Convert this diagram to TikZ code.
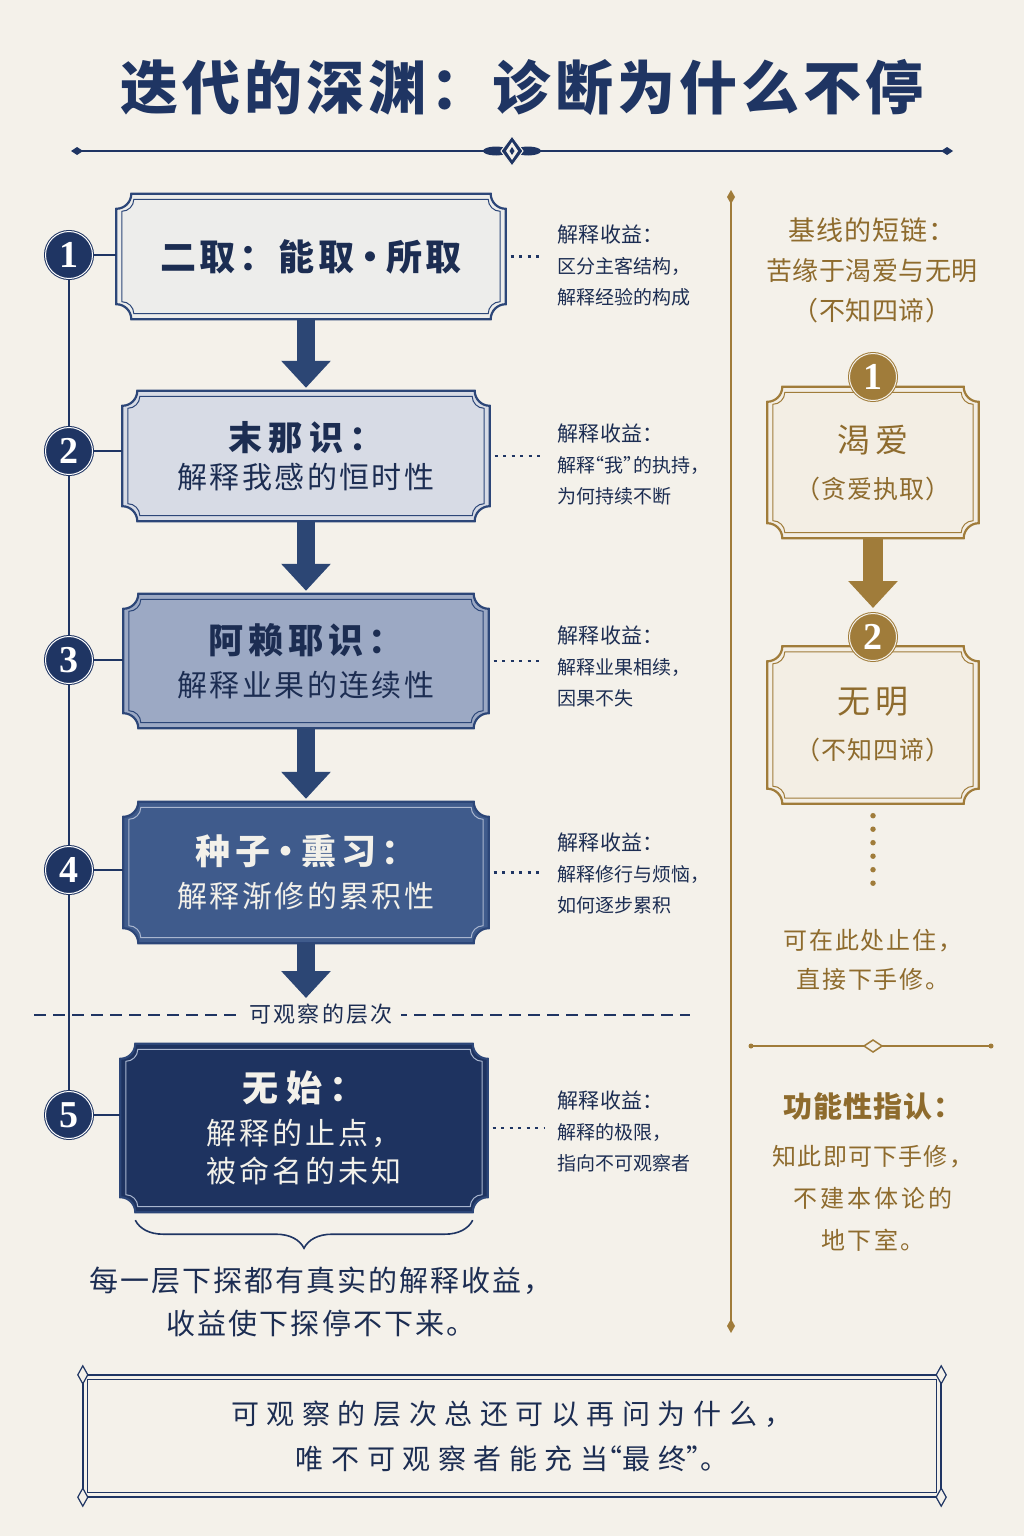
\documentclass[tikz,border=0pt]{standalone}
\usepackage{fontspec}
\newfontfamily\cjk{Noto Sans CJK SC}
\newfontfamily\numfont{Liberation Serif}
\usetikzlibrary{arrows.meta,backgrounds,calc,decorations.pathreplacing}
\definecolor{paper}{HTML}{F4F1EA}
\definecolor{navy}{HTML}{1F3563}
\definecolor{ink}{HTML}{1C2D52}
\definecolor{frameblue}{HTML}{2C4678}
\definecolor{arrowblue}{HTML}{2C4674}
\definecolor{paleline}{HTML}{A9B6CF}
\definecolor{pale}{HTML}{F3F1EA}
\definecolor{fillA}{HTML}{EDEDEB}
\definecolor{fillB}{HTML}{D7DBE5}
\definecolor{fillC}{HTML}{9CA9C4}
\definecolor{fillD}{HTML}{3F5B8C}
\definecolor{fillE}{HTML}{1E3360}
\definecolor{gold}{HTML}{A07C3A}
\definecolor{goldink}{HTML}{8E6B2D}
\definecolor{goldfill}{HTML}{F3EEE4}
\newcommand{\zi}[3]{{\fontsize{#1}{#1}\selectfont\addfontfeatures{LetterSpace=#2}#3}}
\newcommand{\hw}[1]{{\addfontfeatures{RawFeature=+halt}#1}}
\newcommand{\notchpath}[3]{let \p1=($(#1.north west)+(#2,-#2)$), \p2=($(#1.south east)+(-#2,#2)$) in
  (\x1+#3,\y1) -- (\x2-#3,\y1) .. controls (\x2-#3,\y1-0.55*#3) and (\x2-0.55*#3,\y1-#3) .. (\x2,\y1-#3)
  -- (\x2,\y2+#3) .. controls (\x2-0.55*#3,\y2+#3) and (\x2-#3,\y2+0.55*#3) .. (\x2-#3,\y2)
  -- (\x1+#3,\y2) .. controls (\x1+#3,\y2+0.55*#3) and (\x1+0.55*#3,\y2+#3) .. (\x1,\y2+#3)
  -- (\x1,\y1-#3) .. controls (\x1+0.55*#3,\y1-#3) and (\x1+#3,\y1-0.55*#3) .. cycle}
\newcommand{\tierframe}[4]{%
  \path[fill=#2, draw=#3, line width=2.2pt] \notchpath{#1}{0pt}{15pt};
  \path[draw=#4, line width=1pt] \notchpath{#1}{5.5pt}{12pt};}

\begin{document}
\begin{tikzpicture}[x=1pt, y=-1pt, font=\cjk]
\tikzset{layerbox/.style={inner sep=0pt, align=center, text=ink, font=\cjk\fontsize{30}{43}\selectfont},
  tag/.style={circle, minimum size=47pt, inner sep=0pt, fill=navy, draw=navy, double=white, double distance=1pt, line width=1pt, text=white, font=\numfont\bfseries\fontsize{38}{38}\selectfont},
  gain/.style={anchor=west, inner sep=0pt, align=left, text=ink, font=\cjk\fontsize{19}{31}\selectfont},
  flow/.style={draw=arrowblue, line width=18pt, -{Triangle[width=48pt,length=27pt]}, shorten >=3pt},
  spine/.style={draw=navy, line width=2.4pt},
  gaindots/.style={draw=navy, line width=2.4pt, dash pattern=on 3pt off 5.5pt, shorten <=5pt, shorten >=13pt},
  goldbox/.style={inner sep=0pt, align=center, text=goldink, font=\cjk\fontsize{25}{46}\selectfont},
  goldtag/.style={tag, fill=gold, draw=gold, double=paper},
  goldflow/.style={draw=gold, line width=20pt, -{Triangle[width=48pt,length=27pt]}, shorten >=5pt},
  goldtext/.style={align=center, text=goldink, inner sep=0pt, font=\cjk\fontsize{25}{40}\selectfont}}
\useasboundingbox (0,0) rectangle (1024,1536);

\node[text=navy, inner sep=0pt, font=\cjk\bfseries] (title) at (522,87) {\zi{58}{7}{迭代的深渊：诊断为什么不停}};
\draw[navy, line width=2.5pt] (77,151) -- (947,151);
\foreach \x in {77,947} \fill[navy] (\x,151) +(-6,0) -- +(0,-4) -- +(6,0) -- +(0,4) -- cycle;
\fill[navy] (496,151) ellipse (13 and 4.5);
\fill[navy] (528,151) ellipse (13 and 4.5);
\filldraw[fill=navy, draw=paper, line width=1pt] (512,136) -- (523,151) -- (512,166) -- (501,151) -- cycle;
\fill[paper] (512,142) -- (518,151) -- (512,160) -- (506,151) -- cycle;
\fill[navy] (512,147) -- (514.5,151) -- (512,155) -- (509.5,151) -- cycle;

\node[layerbox, minimum width=389pt, minimum height=125pt, font=\cjk\bfseries] (L1) at (311,256.5) {\zi{36}{10}{二取：能取\hspace{7pt}\hw{·}\hspace{7pt}所取}};
\node[layerbox, minimum width=367pt, minimum height=130pt, font=\cjk\fontsize{30}{38}\selectfont] (L2) at (306,456) {{\bfseries\zi{34}{18}{末那识：}}\\\zi{30}{8}{解释我感的恒时性}};
\node[layerbox, minimum width=365pt, minimum height=134pt] (L3) at (306,661) {{\bfseries\zi{35}{14}{阿赖耶识：}}\\\zi{30}{8}{解释业果的连续性}};
\node[layerbox, text=pale, minimum width=365pt, minimum height=141pt] (L4) at (306,872.5) {{\bfseries\zi{35}{14}{种子\hspace{7pt}\hw{·}\hspace{7pt}熏习：}}\\\zi{30}{8}{解释渐修的累积性}};
\node[layerbox, text=pale, minimum width=367pt, minimum height=168pt, font=\cjk\fontsize{30}{38}\selectfont] (L5) at (304,1128) {{\bfseries\zi{36}{22}{无始：}}\\[5pt]\zi{30}{10}{解释的止点，}\\\zi{30}{10}{被命名的未知}};

\foreach \n/\y in {1/255,2/451,3/660,4/870,5/1115} \node[tag] (C\n) at (69,\y) {\n};
\foreach \a/\b in {1/2,2/3,3/4,4/5} \draw[spine] (C\a) -- (C\b);
\foreach \n in {1,...,5} \draw[spine] (C\n) -- (C\n -| L\n.west);

\coordinate (stop4) at (306,1001);
\draw[flow] (L2.north |- L1.south) -- (L2.north);
\draw[flow] (L2.south) -- (L3.north);
\draw[flow] (L3.south) -- (L4.north);
\draw[flow] (L4.south) -- (stop4);

\node[gain] (R1) at (557,265) {\zi{21}{2}{解释收益：}\\区分主客结构，\\解释经验的构成};
\node[gain] (R2) at (557,464) {\zi{21}{2}{解释收益：}\\解释\hw{“}我\hw{”}的执持，\\为何持续不断};
\node[gain] (R3) at (557,666) {\zi{21}{2}{解释收益：}\\解释业果相续，\\因果不失};
\node[gain] (R4) at (557,873) {\zi{21}{2}{解释收益：}\\解释修行与烦恼，\\如何逐步累积};
\node[gain] (R5) at (557,1131) {\zi{21}{2}{解释收益：}\\解释的极限，\\指向不可观察者};
\foreach \n in {1,...,5} \draw[gaindots] (L\n.east) -- (L\n.east -| R\n.west);

\coordinate (sepL) at (34,1015);
\coordinate (sepR) at (690,1015);
\draw[navy, line width=2pt, dash pattern=on 12pt off 7pt] (sepL) -- (sepR);
\node[fill=paper, inner xsep=8pt, inner ysep=2pt, text=ink] (obs) at (321,1014) {\zi{22}{10}{可观察的层次}};

\draw[navy, line width=1.6pt, decorate, decoration={brace, mirror, amplitude=28pt}] ([xshift=15pt,yshift=-8pt]L5.south west) -- ([xshift=-15pt,yshift=-8pt]L5.south east);
\node[align=center, text=ink, inner sep=0pt, font=\cjk\fontsize{29}{43}\selectfont] (moral) at (321,1302) {\zi{29}{7}{每一层下探都有真实的解释收益，}\\\zi{29}{7}{收益使下探停不下来。}};

\draw[gold, line width=2pt] (731,197) -- (731,1326);
\foreach \y in {197,1326} \fill[gold] (731,\y) +(0,-7) -- +(4,0) -- +(0,7) -- +(-4,0) -- cycle;

\node[goldtext, font=\cjk\fontsize{26}{40}\selectfont] (head) at (872,270) {\zi{27}{4}{基线的短链：}\\\zi{26}{2}{苦缘于渴爱与无明}\\\zi{26}{2}{（不知四谛）}};
\node[goldbox, minimum width=211pt, minimum height=151pt] (G1) at (873,462.5) {\zi{33}{15}{渴爱}\\\zi{25}{4}{（贪爱执取）}};
\node[goldbox, minimum width=211pt, minimum height=157pt] (G2) at (873,725) {\zi{33}{15}{无明}\\\zi{25}{4}{（不知四谛）}};
\node[goldtag] (GC1) at (873,377) {1};
\node[goldtag] (GC2) at (873,637) {2};
\draw[goldflow] (G1.south) -- (GC2.north);

\node[goldtext, font=\cjk\fontsize{24}{39}\selectfont] (halt) at (873,960) {\zi{24}{7}{可在此处止住，}\\\zi{24}{7}{直接下手修。}};
\draw[gold, line width=5.5pt, line cap=round, dash pattern=on 0pt off 13.5pt, shorten <=12pt, shorten >=44pt] (G2.south) -- (halt.north);

\draw[gold, line width=1.5pt] (751,1046) -- (991,1046);
\foreach \x in {751,991} \fill[gold] (\x,1046) circle (2.5);
\filldraw[fill=paper, draw=gold, line width=1.5pt] (873,1046) +(-9,0) -- +(0,-6) -- +(9,0) -- +(0,6) -- cycle;

\node[goldtext, font=\cjk\fontsize{24}{42}\selectfont] (func) at (873,1172) {{\bfseries\zi{29}{4}{功能性指认：}}\\[6pt]\zi{24}{5}{知此即可下手修，}\\\zi{24}{12}{不建本体论的}\\\zi{24}{10}{地下室。}};

\node[align=center, text=ink, minimum width=858pt, minimum height=122pt, inner sep=0pt, font=\cjk\fontsize{28}{45}\selectfont] (last) at (512,1436) {\zi{28}{27}{可观察的层次总还可以再问为什么，}\\\zi{28}{27}{唯不可观察者能充当\hw{“}最终\hw{”}。}};
\draw[navy, line width=2pt] (last.north west) rectangle (last.south east);
\draw[navy, line width=0.8pt] ([shift={(5pt,-5pt)}]last.north west) rectangle ([shift={(-5pt,5pt)}]last.south east);
\foreach \c in {north west, north east, south west, south east}
  \filldraw[fill=paper, draw=navy, line width=1.2pt] (last.\c) +(0pt,-9pt) -- +(5pt,0pt) -- +(0pt,9pt) -- +(-5pt,0pt) -- cycle;

\begin{scope}[on background layer]
\fill[paper] (0,0) rectangle (1024,1536);
\tierframe{L1}{fillA}{frameblue}{frameblue}
\tierframe{L2}{fillB}{frameblue}{frameblue}
\tierframe{L3}{fillC}{frameblue}{frameblue}
\tierframe{L4}{fillD}{frameblue}{paleline}
\tierframe{L5}{fillE}{frameblue}{paleline}
\tierframe{G1}{goldfill}{gold}{gold}
\tierframe{G2}{goldfill}{gold}{gold}
\end{scope}
\end{tikzpicture}
\end{document}
